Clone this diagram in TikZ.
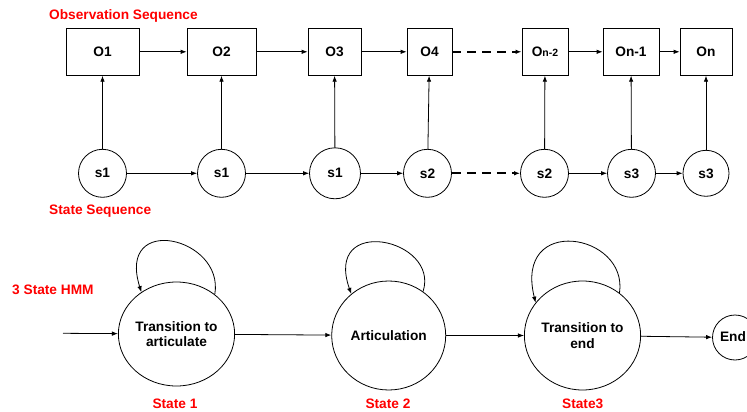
\documentclass[tikz,border=0pt]{standalone}
\usepackage{fontspec}
\setmainfont{Liberation Sans}
\usetikzlibrary{arrows.meta,shapes.geometric}
\definecolor{lblred}{RGB}{255,0,0}
\tikzset{
  txt/.style={font=\fontsize{13.7}{15.5}\selectfont\bfseries},
  obsbox/.style={txt,draw,line width=0.8pt,minimum height=47pt,inner sep=0pt},
  stcirc/.style={txt,draw,circle,line width=0.8pt,minimum size=48pt,inner sep=0pt},
  bigstate/.style={txt,draw,ellipse,line width=0.8pt,inner sep=0pt,align=center},
  redlbl/.style={txt,text=lblred,inner sep=0pt},
  arr/.style={line width=0.8pt,-{Latex[length=6pt,width=4.5pt]}},
  dasharr/.style={line width=2pt,dash pattern=on 9pt off 6pt,-{Latex[length=6pt,width=4.5pt]}},
  loopline/.style={line width=0.8pt,-{Latex[length=6pt,width=4.5pt]}}
}
\begin{document}
\begin{tikzpicture}[x=1pt,y=-1pt]
\useasboundingbox (0,0) rectangle (747,412);
% labels
\node[redlbl,anchor=west] (lobs) at (49,15.5) {Observation Sequence};
\node[redlbl,anchor=west] (lstate) at (49,210.7) {State Sequence};
\node[redlbl,anchor=west] (lhmm) at (12,289.3) {3 State HMM};
% observation boxes
\node[obsbox,minimum width=73pt] (o1) at (102.5,51.8) {O1};
\node[obsbox,minimum width=69pt] (o2) at (221.5,51.8) {O2};
\node[obsbox,minimum width=53pt] (o3) at (334.5,51.8) {O3};
\node[obsbox,minimum width=45pt] (o4) at (429.5,51.8) {O4};
\node[obsbox,minimum width=46pt] (on2) at (545,51.8) {O{\fontsize{10.5}{12}\selectfont n-2}};
\node[obsbox,minimum width=56pt] (on1) at (631,51.8) {On-1};
\node[obsbox,minimum width=52pt] (on) at (706,51.8) {On};
% state circles
\node[stcirc] (c1) at (102.5,173.3) {s1};
\node[stcirc] (c2) at (221.5,173.3) {s1};
\node[stcirc,minimum size=51pt] (c3) at (335,173.3) {s1};
\node[stcirc] (c4) at (427.5,173.3) {s2};
\node[stcirc] (c5) at (544.5,173.3) {s2};
\node[stcirc] (c6) at (631.5,173.3) {s3};
\node[stcirc,minimum size=46pt] (c7) at (706,173.3) {s3};
% top arrows
\draw[arr] (o1) -- (o2);
\draw[arr] (o2) -- (o3);
\draw[arr] (o3) -- (o4);
\draw[dasharr] (o4) -- (on2);
\draw[arr] (on2) -- (on1);
\draw[arr] (on1) -- (on);
% bottom arrows
\draw[arr] (c1) -- (c2);
\draw[arr] (c2) -- (c3);
\draw[arr] (c3) -- (c4);
\draw[dasharr] (c4) -- (c5);
\draw[arr] (c5) -- (c6);
\draw[arr] (c6) -- (c7);
% vertical arrows
\draw[arr] (c1) -- (o1);
\draw[arr] (c2) -- (o2);
\draw[arr] (c3) -- (o3);
\draw[arr] (c4) -- (o4);
\draw[arr] (c5) -- (on2);
\draw[arr] (c6) -- (on1);
\draw[arr] (c7) -- (on);
% HMM states
\node[bigstate,minimum width=109pt,minimum height=104pt] (st1) at (176.5,334) {Transition to\\articulate};
\node[bigstate,minimum width=114pt,minimum height=109pt] (st2) at (388.7,335.5) {Articulation};
\node[bigstate,minimum width=113pt,minimum height=109pt] (st3) at (582.5,335.5) {Transition to\\end};
\node[txt,draw,circle,line width=0.8pt,minimum size=45pt,inner sep=0pt] (endn) at (735,337.5) {};
\node[txt,inner sep=0pt] (endt) at (733,337) {End};
\coordinate (entry) at (63,333.3);
\draw[arr] (entry) -- (st1);
\draw[arr] (st1) -- (st2);
\draw[arr] (st2) -- (st3);
\draw[arr] (st3) -- (endn);
% self loops
\draw[loopline] (st1.46) .. controls +(10,-57) and +(-25,-80) .. (st1.130);
\draw[loopline] (st2.52) .. controls +(17,-53) and +(-28,-80) .. (st2.132);
\draw[loopline] (st3.49) .. controls +(9,-60) and +(-22,-89) .. (st3.145);
% state labels
\node[redlbl] (ls1) at (175,404) {State 1};
\node[redlbl] (ls2) at (388,404) {State 2};
\node[redlbl] (ls3) at (582.7,404) {State3};
\end{tikzpicture}
\end{document}
